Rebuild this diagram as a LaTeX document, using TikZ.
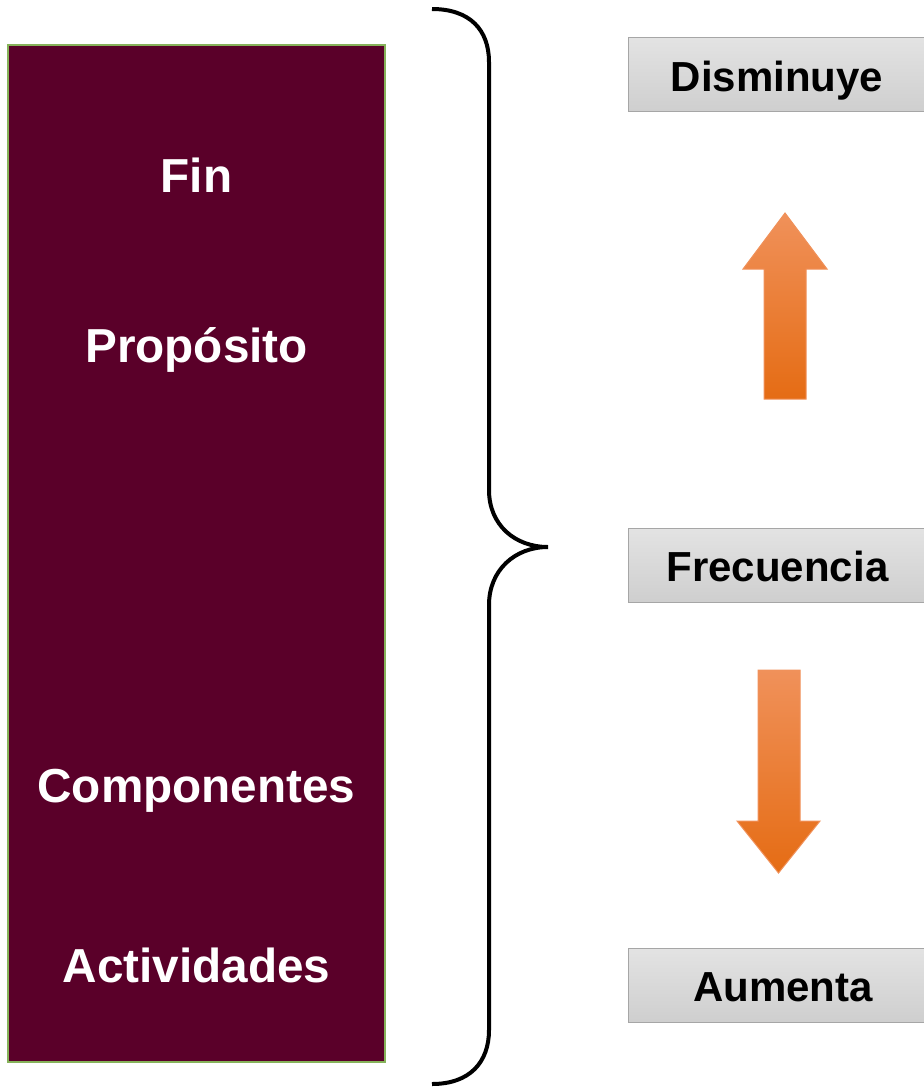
\documentclass[tikz,border=0pt]{standalone}
\usepackage{fontspec}
\setmainfont{Liberation Sans}
\usetikzlibrary{positioning}
\definecolor{vino}{HTML}{5A0029}
\definecolor{verde}{HTML}{86B25A}
\definecolor{naranja}{HTML}{E56C14}
\definecolor{naranjaclaro}{HTML}{F0915A}
\definecolor{naranjamedio}{HTML}{F47F2C}
\newcommand{\bajar}[1]{\raisebox{-16.5pt}[0pt][0pt]{#1}}
\begin{document}
\begin{tikzpicture}[x=1pt, y=-1pt,
      nivel/.style={text=white, font=\fontsize{47.7}{56}\selectfont\bfseries},
      caja/.style={draw=gray!70, line width=1pt, top color=gray!22, bottom color=gray!38,
        minimum width=298pt, minimum height=74pt, inner sep=0pt,
        font=\fontsize{42}{50}\selectfont\bfseries},
      flecha/.style={draw=naranjaclaro, line width=1pt, top color=naranjaclaro,
        middle color=naranjamedio, bottom color=naranja},
    ]
      \useasboundingbox (0,0) rectangle (924,1088);
      \clip (0,0) rectangle (924,1088);
      \node[draw=verde, line width=1.5pt, fill=vino, minimum width=377pt, minimum height=1017pt,
        inner sep=0pt] (panel) at (196.5,553.5) {};
      \node[nivel] (fin) at (196.5,175) {Fin};
      \node[nivel] (proposito) at (196.5,350) {Propósito};
      \node[nivel] (componentes) at (196.5,791) {Componentes};
      \node[nivel] (actividades) at (196.5,965) {Actividades};
      % llave
      \draw[line width=4pt] (432,9) .. controls (470,9) and (489,30) .. (489,62) -- (489,490)
        .. controls (489,525) and (515,547) .. (548,547)
        .. controls (515,547) and (489,570) .. (489,605) -- (489,1030)
        .. controls (489,1062) and (470,1084) .. (432,1084);
      \node[caja] (disminuye) at (777,74.5) {\bajar{Disminuye}};
      \node[caja] (frecuencia) at (777.5,565) {\bajar{Frecuencia}};
      \node[caja, minimum width=310pt] (aumenta) at (783,985) {\bajar{Aumenta}};
      \draw[flecha] (785,213) -- (827,269) -- (806,269) -- (806,399) -- (764,399) -- (764,269) -- (743,269) -- cycle;
      \draw[flecha] (758,670) -- (800,670) -- (800,821) -- (820,821) -- (778.5,873) -- (737,821) -- (758,821) -- cycle;
    \end{tikzpicture}
\end{document}
